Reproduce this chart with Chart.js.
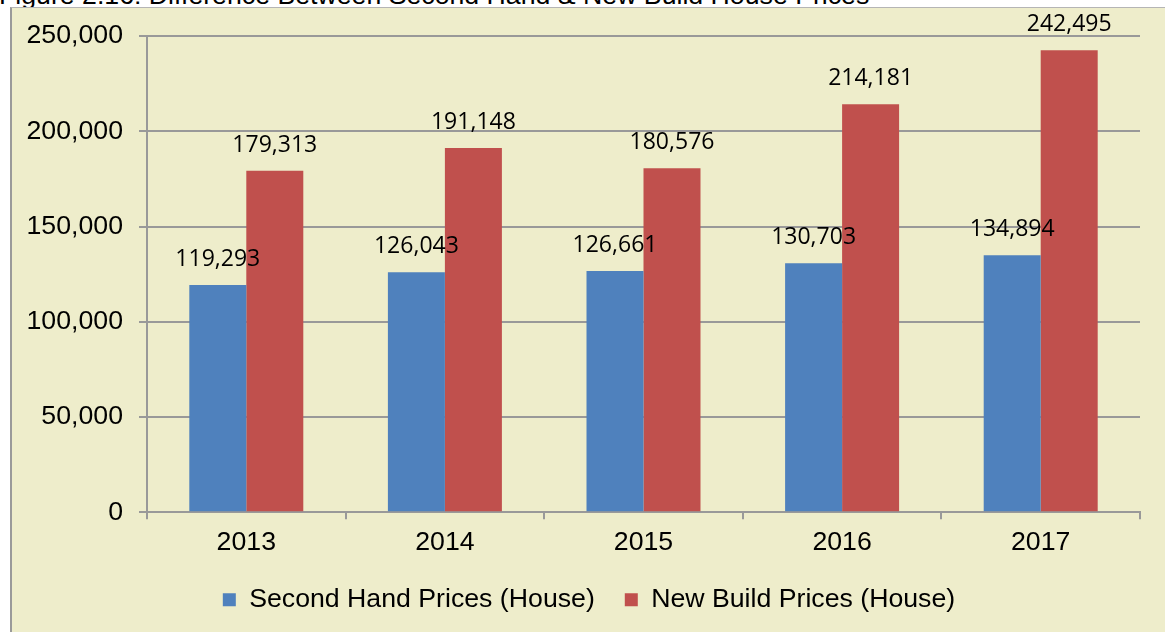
<!DOCTYPE html>
<html>
<head>
<meta charset="utf-8">
<script src="https://cdn.jsdelivr.net/npm/chart.js@4"></script>
<style>
  body { margin: 0; background: #fff; width: 1165px; height: 632px; overflow: hidden; position: relative; }
  #title { position: absolute; left: -1px; top: -18px; font: 26.7px "Liberation Sans", Arial, sans-serif; line-height: 26px; color: #000; white-space: nowrap; }
  #box { position: absolute; left: 10px; top: 7px; width: 1160px; height: 630px; background: #EEEDCB; border-left: 2px solid #9a9a9a; border-top: 1px solid #b5b5b5; }
  #wrap { position: absolute; left: 0; top: 8px; width: 1165px; height: 624px; }
</style>
</head>
<body>
<div id="title">Figure 2.16: Difference Between Second Hand &amp; New Build House Prices</div>
<div id="box"></div>
<div id="wrap"><canvas id="grafico"></canvas></div>
<script>
const anos = ['2013', '2014', '2015', '2016', '2017'];
const segundaMao = [119293, 126043, 126661, 130703, 134894];
const novaConstrucao = [179313, 191148, 180576, 214181, 242495];
const ticksY = [0, 50000, 100000, 150000, 200000, 250000];

const fonteEixo = { family: '"Liberation Sans", Arial, sans-serif', size: 26.7 };

// rotulos de valor acima das barras
const rotulos = {
  id: 'rotulos',
  afterDatasetsDraw(chart) {
    const ctx = chart.ctx;
    ctx.save();
    ctx.font = '23px "Open Sans", sans-serif';
    ctx.fillStyle = '#000';
    ctx.textAlign = 'center';
    ctx.textBaseline = 'alphabetic';
    chart.data.datasets.forEach((ds, i) => {
      chart.getDatasetMeta(i).data.forEach((bar, j) => {
        ctx.fillText(ds.data[j].toLocaleString('en-US'), bar.x, bar.y - 19);
      });
    });
    ctx.restore();
  }
};

// legenda um pouco mais a direita, como no original
const ajustaLegenda = {
  id: 'ajustaLegenda',
  afterLayout(chart) {
    chart.legend.left += 9;
    chart.legend.right += 9;
  }
};

new Chart(document.getElementById('grafico'), {
  type: 'bar',
  data: {
    labels: anos,
    datasets: [{
      label: 'Second Hand Prices (House)',
      data: segundaMao,
      backgroundColor: '#4F81BD',
      categoryPercentage: 0.574,
      barPercentage: 1
    }, {
      label: 'New Build Prices (House)',
      data: novaConstrucao,
      backgroundColor: '#C0504D',
      categoryPercentage: 0.574,
      barPercentage: 1
    }]
  },
  options: {
    responsive: true,
    maintainAspectRatio: false,
    animation: false,
    layout: { padding: { left: 20, right: 25, top: 28, bottom: 9 } },
    plugins: {
      tooltip: { enabled: false },
      legend: {
        position: 'bottom',
        labels: {
          font: fonteEixo,
          color: '#000',
          boxWidth: 13,
          boxHeight: 13,
          padding: 30
        }
      }
    },
    scales: {
      x: {
        afterFit(scale) { scale.height = 44; },
        grid: { drawOnChartArea: false, tickLength: 7, color: '#999', lineWidth: 2 },
        border: { color: '#999', width: 2 },
        ticks: { font: fonteEixo, color: '#000', padding: 7 }
      },
      y: {
        min: 0,
        max: 250000,
        afterFit(scale) {
          scale.width = 127;
          scale.paddingTop = 0;
          scale.paddingBottom = 0;
        },
        afterBuildTicks(scale) { scale.ticks = ticksY.map(v => ({ value: v })); },
        grid: { tickLength: 8, color: '#999', lineWidth: 2 },
        border: { color: '#999', width: 2 },
        ticks: {
          font: fonteEixo,
          color: '#000',
          padding: 16,
          callback: v => v.toLocaleString('en-US')
        }
      }
    }
  },
  plugins: [rotulos, ajustaLegenda]
});
</script>
</body>
</html>
